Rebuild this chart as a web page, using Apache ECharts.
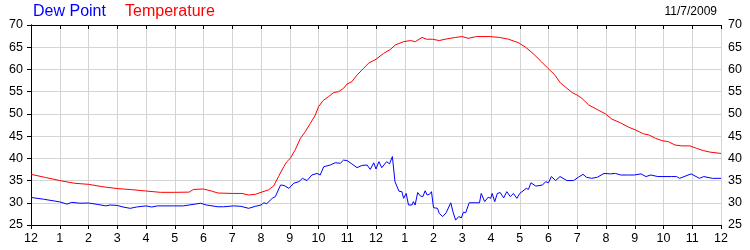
<!DOCTYPE html>
<html>
<head>
<meta charset="utf-8">
<script src="https://cdn.jsdelivr.net/npm/echarts@6/dist/echarts.min.js"></script>
<style>html,body{margin:0;padding:0;background:#fff;}#c{width:750px;height:250px;}</style>
</head>
<body>
<div id="c"></div>
<script>
var xTickLabels = ['12','1','2','3','4','5','6','7','8','9','10','11','12','1','2','3','4','5','6','7','8','9','10','11','12'];
var yTicks = [25, 30, 35, 40, 45, 50, 55, 60, 65, 70];
var seriesNames = ['Dew Point', 'Temperature'];
var dateLabel = '11/7/2009';

var tempHours = [0,0.5,1,1.5,2,2.5,3,3.5,4,4.5,5,5.5,5.65,6,6.3,6.5,7,7.34,7.57,7.8,8.0,8.26,8.44,8.61,8.79,8.9,9.02,9.19,9.37,9.54,9.72,9.89,10.0,10.16,10.35,10.53,10.7,10.87,10.99,11.16,11.34,11.57,11.74,12.0,12.26,12.5,12.67,12.96,13.2,13.37,13.6,13.75,13.96,14.2,14.4,14.76,15.0,15.2,15.5,15.96,16.3,16.61,16.96,17.2,17.46,17.75,17.98,18.2,18.41,18.58,18.82,18.99,19.16,19.4,19.69,19.98,20.21,20.5,20.79,21.02,21.31,21.5,21.72,21.94,22.17,22.4,22.63,22.92,23.15,23.38,23.62,24];
var tempValues = [36.4,35.7,35.0,34.4,34.15,33.6,33.2,32.95,32.65,32.35,32.35,32.4,33.0,33.1,32.6,32.2,32.1,32.1,31.75,31.9,32.35,32.9,33.8,35.9,38.1,39.25,40.0,41.9,44.5,46.0,47.9,49.75,51.6,53.0,53.9,54.8,55.0,55.75,56.7,57.25,58.75,60.25,61.4,62.3,63.6,64.5,65.5,66.25,66.5,66.25,67.2,66.8,66.8,66.5,66.8,67.2,67.4,67.0,67.4,67.4,67.2,66.8,66.0,65.0,63.6,61.75,60.25,58.9,57.0,56.1,54.8,54.25,53.5,52.0,51.0,50.0,48.8,48.0,47.0,46.4,45.5,45.25,44.5,44.0,43.75,43.0,42.8,42.8,42.25,41.75,41.4,41.1];

var dewHours = [0,0.44,1,1.25,1.42,1.7,2,2.3,2.6,2.75,3,3.2,3.45,3.67,4,4.2,4.4,5,5.3,5.7,5.9,6.1,6.5,6.7,7.05,7.3,7.57,7.8,8.0,8.1,8.2,8.39,8.5,8.68,8.8,8.97,9.14,9.32,9.44,9.6,9.77,9.95,10.06,10.18,10.41,10.58,10.76,10.87,10.99,11.16,11.34,11.51,11.69,11.8,11.92,12.0,12.1,12.2,12.37,12.47,12.57,12.66,12.8,12.9,12.96,13.05,13.13,13.25,13.3,13.36,13.45,13.55,13.63,13.71,13.78,13.86,13.93,14.0,14.14,14.2,14.32,14.44,14.5,14.6,14.68,14.77,14.88,14.97,15.04,15.12,15.24,15.6,15.66,15.78,15.9,15.99,16.04,16.13,16.22,16.32,16.44,16.55,16.67,16.78,16.9,17.0,17.23,17.3,17.39,17.56,17.79,17.9,18.0,18.1,18.25,18.4,18.64,18.87,19.04,19.2,19.32,19.5,19.7,19.93,20.16,20.33,20.51,20.75,20.98,21.22,21.39,21.56,21.8,22.27,22.45,22.56,22.96,23.25,23.4,23.7,24];
var dewValues = [31.2,30.8,30.2,29.7,30.1,29.9,29.95,29.65,29.3,29.5,29.4,29.05,28.75,29.05,29.3,29.05,29.3,29.3,29.3,29.7,29.9,29.5,29.1,29.1,29.3,29.2,28.75,29.2,29.5,30.0,29.8,31.0,31.4,34.0,33.9,33.25,34.4,34.75,35.5,35.0,36.25,36.6,36.25,38.1,38.5,39.0,38.9,39.6,39.5,38.75,37.9,38.4,38.5,37.5,39.0,37.6,39.25,37.9,39.25,38.75,40.4,34.75,32.6,32.5,31.0,32.1,29.5,29.5,30.25,29.5,32.3,31.5,31.4,32.7,31.75,31.9,32.5,28.9,28.75,27.6,26.9,27.75,27.9,30.0,27.9,26.1,26.9,26.6,27.9,27.75,30.0,30.0,32.1,30.25,31.25,31.0,32.1,30.25,32.1,32.3,31.1,32.5,31.4,32.1,31.0,32.1,33.25,33.0,34.5,33.75,34.0,34.75,34.5,35.9,35.0,35.9,35.0,35.0,35.75,36.4,35.75,35.5,35.75,36.6,36.5,36.6,36.25,36.25,36.25,36.5,35.9,36.25,35.9,35.9,35.9,35.5,36.5,35.5,35.9,35.5,35.5];

function pairs(xs, ys) { var out = []; for (var i = 0; i < xs.length; i++) out.push([xs[i], ys[i]]); return out; }

var chart = echarts.init(document.getElementById('c'), null, { renderer: 'canvas' });
var fontFam = '"Liberation Sans", Arial, sans-serif';
var gridColor = '#d4d4d4';

var yBase = {
  type: 'value', min: yTicks[0], max: yTicks[yTicks.length - 1], interval: 5,
  axisLine: { show: true, lineStyle: { color: '#000', width: 1 } },
  axisTick: { show: true, length: 4, lineStyle: { color: '#000' } },
  splitLine: { show: false },
  axisLabel: { color: '#000', fontSize: 12.5, fontFamily: fontFam, margin: 8 }
};

chart.setOption({
  animation: false,
  backgroundColor: '#fff',
  title: [
    { text: seriesNames[0], left: 33, top: 4, textStyle: { color: '#0000ff', fontSize: 16, fontWeight: 'normal', fontFamily: fontFam }, padding: 0 },
    { text: seriesNames[1], left: 125, top: 4, textStyle: { color: '#ff0000', fontSize: 16, fontWeight: 'normal', fontFamily: fontFam }, padding: 0 },
    { text: dateLabel, right: 33, top: 6, textStyle: { color: '#000', fontSize: 12, fontWeight: 'normal', fontFamily: fontFam }, padding: 0 }
  ],
  grid: { left: 31, right: 29, top: 25, bottom: 25, containLabel: false, show: false },
  xAxis: [
    {
      type: 'value', min: 0, max: 24, interval: 1, position: 'bottom',
      axisLine: { show: true, onZero: false, lineStyle: { color: '#000', width: 1 } },
      axisTick: { show: true, length: 4, lineStyle: { color: '#000' } },
      splitLine: { show: true, lineStyle: { color: gridColor, width: 1 } },
      axisLabel: { color: '#000', fontSize: 12.5, fontFamily: fontFam, margin: 7, formatter: function (v) { return xTickLabels[Math.round(v)]; } }
    },
    {
      type: 'value', min: 0, max: 24, interval: 1, position: 'top',
      axisLine: { show: true, onZero: false, lineStyle: { color: '#000', width: 1 } },
      axisTick: { show: true, inside: true, length: 4, lineStyle: { color: '#000' } },
      splitLine: { show: false },
      axisLabel: { show: false }
    }
  ],
  yAxis: [
    Object.assign({}, yBase, { position: 'left', splitLine: { show: true, lineStyle: { color: gridColor, width: 1 } } }),
    Object.assign({}, yBase, { position: 'right', axisTick: { show: true, inside: true, length: 4, lineStyle: { color: '#000' } }, axisLabel: { color: '#000', fontSize: 12.5, fontFamily: fontFam, margin: 7 } })
  ],
  series: [
    { name: seriesNames[1], type: 'line', xAxisIndex: 0, yAxisIndex: 0, data: pairs(tempHours, tempValues), showSymbol: false, symbol: 'none', lineStyle: { color: '#ff0000', width: 1 }, itemStyle: { color: '#ff0000' } },
    { name: seriesNames[0], type: 'line', xAxisIndex: 0, yAxisIndex: 0, data: pairs(dewHours, dewValues), showSymbol: false, symbol: 'none', lineStyle: { color: '#0000ff', width: 1 }, itemStyle: { color: '#0000ff' } }
  ]
});
</script>
</body>
</html>
